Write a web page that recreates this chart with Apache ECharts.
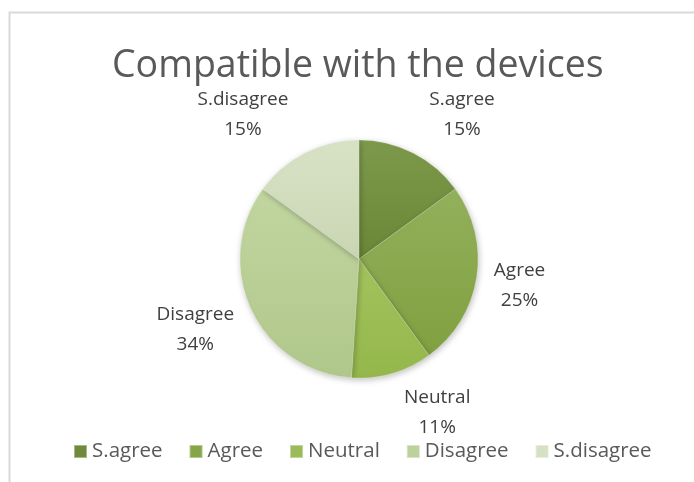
<!DOCTYPE html>
<html>
<head>
<meta charset="utf-8">
<script src="https://cdn.jsdelivr.net/npm/echarts@6/dist/echarts.min.js"></script>
<style>html,body{margin:0;padding:0;background:#fff;}#c{width:694px;height:482px;}</style>
</head>
<body>
<div id="c"></div>
<script>
const titleText = 'Compatible with the devices';
const categories = ['S.agree', 'Agree', 'Neutral', 'Disagree', 'S.disagree'];
const values = [15, 25, 11, 34, 15];
const colorsTop = ['#7d9a4c', '#93b05b', '#a3c35e', '#c1d6a0', '#d8e3c6'];
const colorsBottom = ['#6a8636', '#80a040', '#94b74b', '#b0c78a', '#c9d6b3'];
const legendColors = ['#6e8a3a', '#86a547', '#9bbb59', '#bdd19b', '#d6e1c3'];
const labelOffsets = [[49, -38], [43, 8], [45, 39], [-56, 20], [-62, -38]];

const font = 'Open Sans, Noto Sans, sans-serif';
const chart = echarts.init(document.getElementById('c'));
const data = categories.map((n, i) => ({
  name: n,
  value: values[i],
  itemStyle: {
    color: new echarts.graphic.LinearGradient(0, 0, 0, 1, [
      { offset: 0, color: colorsTop[i] },
      { offset: 1, color: colorsBottom[i] }
    ])
  }
}));
chart.setOption({
  animation: false,
  backgroundColor: '#fff',
  color: legendColors,
  graphic: [{
    type: 'polyline',
    shape: { points: [[9.5, 482], [9.5, 12.5], [694, 12.5]] },
    style: { stroke: '#d9d9d9', lineWidth: 2, fill: null }
  }],
  title: {
    text: titleText,
    left: 107,
    top: 42,
    textStyle: { fontFamily: font, fontSize: 37.5, fontWeight: 'normal', color: '#595959' }
  },
  legend: {
    bottom: 15,
    left: 68,
    itemWidth: 13,
    itemHeight: 13,
    itemGap: 26,
    icon: 'rect',
    textStyle: { fontFamily: font, fontSize: 20.5, color: '#595959', padding: [0, 0, 0, 0] },
    data: categories.map((n, i) => ({ name: n, itemStyle: { color: legendColors[i] } }))
  },
  series: [{
    type: 'pie',
    center: [359, 259],
    radius: 119,
    startAngle: 90,
    clockwise: true,
    data: data,
    itemStyle: { borderColor: 'rgba(255,255,255,0.4)', borderWidth: 0.5, shadowColor: 'rgba(0,0,0,0.25)', shadowBlur: 6, shadowOffsetX: 1, shadowOffsetY: 2 },
    label: {
      show: true,
      position: 'outside',
      formatter: '{b}\n{d}%',
      fontFamily: font,
      fontSize: 19,
      lineHeight: 30,
      color: '#404040',
      distanceToLabelLine: 0
    },
    labelLine: { show: false, length: 0, length2: 0 },
    labelLayout: function (p) {
      const o = labelOffsets[p.dataIndex];
      return { dx: o[0], dy: o[1], align: 'center', verticalAlign: 'middle', hideOverlap: false };
    },
    emphasis: { disabled: true }
  }]
});
</script>
</body>
</html>
